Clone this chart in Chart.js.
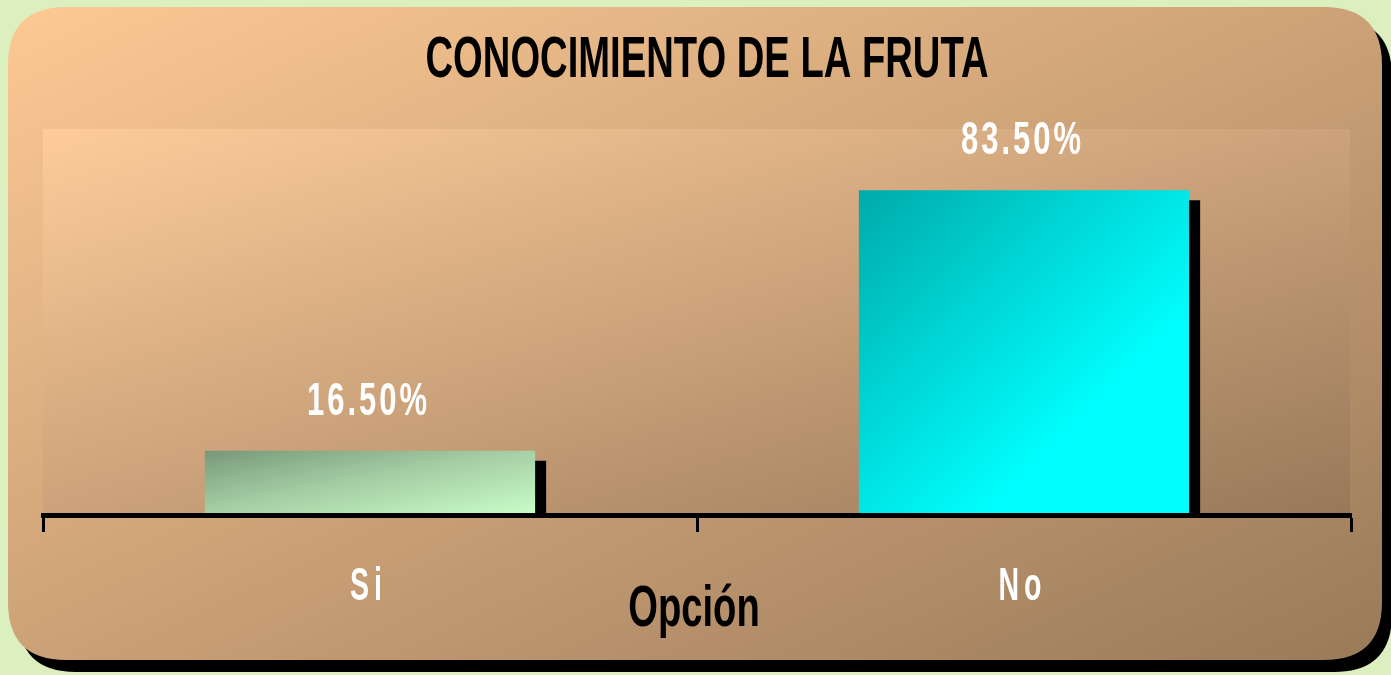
<!DOCTYPE html>
<html>
<head>
<meta charset="utf-8">
<title>Conocimiento de la fruta</title>
<script src="https://cdn.jsdelivr.net/npm/chart.js@4.4.1/dist/chart.umd.min.js"></script>
<style>
    html, body { margin: 0; padding: 0; background: #dcefbf; overflow: hidden; }
    canvas { display: block; }
</style>
</head>
<body>
<canvas id="frutaChart" width="1391" height="675"></canvas>
<script>
// Datos del gráfico
const chartTitle = 'CONOCIMIENTO DE LA FRUTA';
const axisTitle = 'Opción';
const categories = ['Si', 'No'];
const percentages = [16.5, 83.5];
const valueLabels = ['16.50%', '83.50%'];
const yMax = 100;

// Colores de degradado de cada barra (inicio arriba-izquierda, fin abajo-derecha)
const barStops = [
    [[0, '#789878'], [0.45, '#a3cca3'], [1, '#c9fdc9']],
    [[0, '#00aaaa'], [0.7, '#00ffff'], [1, '#00ffff']]
];

// Degradado "diagonal" como en PowerPoint: isolíneas paralelas a la otra diagonal
function diagGradient(ctx, x, y, w, h, stops) {
    const k = 2 * w * h / (w * w + h * h);
    const g = ctx.createLinearGradient(x, y, x + h * k, y + w * k);
    stops.forEach(s => g.addColorStop(s[0], s[1]));
    return g;
}

function roundRect(ctx, x, y, w, h, r) {
    ctx.beginPath();
    ctx.moveTo(x + r, y);
    ctx.lineTo(x + w - r, y);
    ctx.quadraticCurveTo(x + w, y, x + w, y + r);
    ctx.lineTo(x + w, y + h - r);
    ctx.quadraticCurveTo(x + w, y + h, x + w - r, y + h);
    ctx.lineTo(x + r, y + h);
    ctx.quadraticCurveTo(x, y + h, x, y + h - r);
    ctx.lineTo(x, y + r);
    ctx.quadraticCurveTo(x, y, x + r, y);
    ctx.closePath();
}

// Texto condensado (simula una fuente estrecha)
function drawText(ctx, text, x, y, size, color, sx, spacing) {
    ctx.save();
    ctx.font = 'bold ' + size + 'px "Liberation Sans", Arial, sans-serif';
    ctx.fillStyle = color;
    ctx.textAlign = 'center';
    ctx.textBaseline = 'alphabetic';
    ctx.letterSpacing = (spacing || 0) + 'px';
    ctx.translate(x + (spacing || 0) * sx / 2, y);
    ctx.scale(sx, 1);
    ctx.fillText(text, 0, 0);
    ctx.restore();
}

// Fondo: panel redondeado con sombra y área de trazado
const backgroundPlugin = {
    id: 'fondo',
    beforeDraw(chart) {
        const ctx = chart.ctx;
        const area = chart.chartArea;
        ctx.save();
        ctx.fillStyle = '#dcefbf';
        ctx.fillRect(0, 0, chart.width, chart.height);

        const px = 8, py = 7, pw = 1374, ph = 653;
        ctx.fillStyle = '#000000';
        roundRect(ctx, px + 10, py + 12, pw, ph, 58);
        ctx.fill();

        ctx.fillStyle = diagGradient(ctx, px, py, pw, ph, [[0, '#fdc994'], [1, '#9a7a5a']]);
        roundRect(ctx, px, py, pw, ph, 58);
        ctx.fill();

        const top = area.top + 3;
        ctx.fillStyle = diagGradient(ctx, area.left, top, area.right - area.left, area.bottom - top,
            [[0, '#fecc9a'], [1, '#98785a']]);
        ctx.fillRect(area.left, top, area.right - area.left - 1, area.bottom - top);
        ctx.restore();
    },
    beforeDatasetsDraw(chart) {
        const ctx = chart.ctx;
        ctx.save();
        ctx.shadowColor = '#000000';
        ctx.shadowBlur = 0;
        ctx.shadowOffsetX = 11;
        ctx.shadowOffsetY = 10;
    },
    afterDatasetsDraw(chart) {
        chart.ctx.restore();
    },
    afterDraw(chart) {
        const ctx = chart.ctx;
        const xScale = chart.scales.x;
        const yScale = chart.scales.y;

        // Título
        drawText(ctx, chartTitle, 707, 77, 57, '#000000', 0.67, 0);

        // Etiquetas de valor sobre las barras
        percentages.forEach((v, i) => {
            const x = xScale.getPixelForValue(i) - 3;
            const y = yScale.getPixelForValue(v) - 36;
            drawText(ctx, valueLabels[i], x, y, 47, '#ffffff', 0.66, 4.5);
        });

        // Categorías
        categories.forEach((c, i) => {
            const x = xScale.getPixelForValue(i) - 4;
            drawText(ctx, c, x, 600, 46, '#ffffff', 0.62, 8);
        });

        // Título del eje
        drawText(ctx, axisTitle, 694, 626, 57, '#000000', 0.67, 0);
    }
};

const ctx = document.getElementById('frutaChart').getContext('2d');
const frutaChart = new Chart(ctx, {
    type: 'bar',
    data: {
        labels: categories,
        datasets: [{
            data: percentages,
            borderWidth: 0,
            categoryPercentage: 1,
            barPercentage: 0.505,
            backgroundColor: function(context) {
                const chart = context.chart;
                const i = context.dataIndex;
                if (!chart.chartArea || !chart.scales.x) {
                    return barStops[i][1][1];
                }
                const xs = chart.scales.x;
                const ys = chart.scales.y;
                const half = (xs.width / categories.length) * 0.505 / 2;
                const cx = xs.getPixelForValue(i);
                const top = ys.getPixelForValue(percentages[i]);
                const bottom = ys.getPixelForValue(0);
                return diagGradient(chart.ctx, cx - half, top, half * 2, bottom - top, barStops[i]);
            }
        }]
    },
    options: {
        responsive: false,
        devicePixelRatio: 1,
        animation: false,
        layout: {
            padding: { left: 43, right: 40, top: 126, bottom: 0 }
        },
        plugins: {
            legend: { display: false },
            tooltip: { enabled: false },
            title: { display: false }
        },
        scales: {
            x: {
                offset: true,
                ticks: { display: false },
                grid: {
                    display: true,
                    offset: true,
                    drawOnChartArea: false,
                    drawTicks: true,
                    tickLength: 17,
                    tickWidth: 3,
                    tickColor: '#000000'
                },
                border: { display: true, color: '#000000', width: 5, z: 1 },
                afterFit: function(scale) {
                    scale.height = 160;
                }
            },
            y: {
                display: false,
                min: 0,
                max: yMax
            }
        }
    },
    plugins: [backgroundPlugin]
});
</script>
</body>
</html>
